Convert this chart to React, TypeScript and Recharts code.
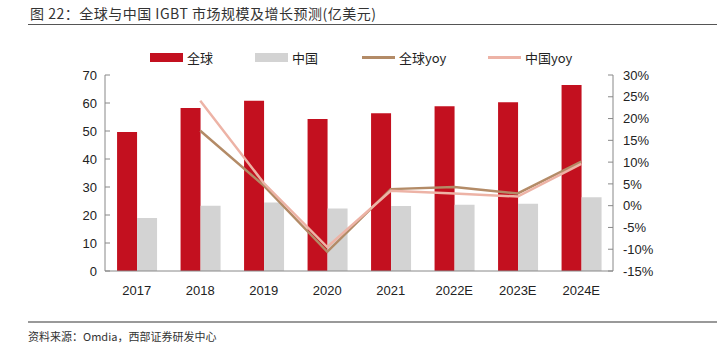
import React from 'react'
import {
  ComposedChart,
  Bar,
  Line,
  XAxis,
  YAxis,
} from 'recharts'

const years = ['2017', '2018', '2019', '2020', '2021', '2022E', '2023E', '2024E']
const globalSize = [49.6, 58.2, 60.8, 54.3, 56.3, 58.8, 60.3, 66.4]
const chinaSize = [18.9, 23.3, 24.5, 22.3, 23.2, 23.7, 24.0, 26.3]
const globalYoy = [null, 17.2, 4.6, -10.6, 3.8, 4.3, 2.8, 10.1]
const chinaYoy = [null, 24.1, 5.2, -9.5, 3.4, 2.8, 2.1, 9.6]
const leftTicks = [0, 10, 20, 30, 40, 50, 60, 70]
const rightTicks = [-15, -10, -5, 0, 5, 10, 15, 20, 25, 30]
const boundaryTicks = [0, 1, 2, 3, 4, 5, 6, 7, 8]

const data = years.map((year, i) => ({
  year,
  global: globalSize[i],
  china: chinaSize[i],
  globalYoy: globalYoy[i],
  chinaYoy: chinaYoy[i],
}))

const colors = {
  global: '#C3101F',
  china: '#D3D3D3',
  globalYoy: '#B38B67',
  chinaYoy: '#EDB3A6',
}

const legendItems = [
  { label: '全球', color: colors.global, line: false, x: 150 },
  { label: '中国', color: colors.china, line: false, x: 255 },
  { label: '全球yoy', color: colors.globalYoy, line: true, x: 362 },
  { label: '中国yoy', color: colors.chinaYoy, line: true, x: 488 },
]

const cjk = '"Noto Sans CJK SC", sans-serif'
const axisFont = { fontSize: 13, fill: '#222', fontFamily: 'Liberation Sans, Arial, sans-serif' }

export default function App() {
  return (
    <div style={{ position: 'absolute', left: 0, top: 0, width: 717, height: 356, background: '#fff' }}>
      <div
        style={{
          position: 'absolute',
          left: 30,
          top: 3,
          fontSize: 14,
          color: '#333',
          fontFamily: cjk,
          letterSpacing: 0.5,
          whiteSpace: 'nowrap',
        }}
      >
        图 22：全球与中国 IGBT 市场规模及增长预测(亿美元)
      </div>
      <div style={{ position: 'absolute', left: 28, top: 24, width: 689, height: 1, background: '#555' }} />

      {legendItems.map((item) => (
        <div
          key={item.label}
          style={{ position: 'absolute', left: item.x, top: 48, display: 'flex', alignItems: 'center', height: 18 }}
        >
          <span
            style={{
              display: 'inline-block',
              width: 33,
              height: item.line ? 3 : 9,
              background: item.color,
              marginRight: 4,
            }}
          />
          <span style={{ fontSize: 13, color: '#222', fontFamily: cjk }}>{item.label}</span>
        </div>
      ))}

      <div style={{ position: 'absolute', left: 0, top: 0 }}>
        <ComposedChart
          width={717}
          height={300}
          data={data}
          margin={{ top: 75, right: 54, left: 65, bottom: 4 }}
          barCategoryGap="19%"
          barGap={0}
        >
          <XAxis
            dataKey="year"
            xAxisId="cat"
            tick={axisFont}
            axisLine={{ stroke: '#888' }}
            tickLine={false}
            tickMargin={9}
            height={25}
          />
          <XAxis
            xAxisId="grid"
            type="number"
            domain={[0, 8]}
            ticks={boundaryTicks}
            tick={false}
            tickSize={-4}
            tickLine={{ stroke: '#888' }}
            axisLine={false}
            height={0}
          />
          <YAxis
            yAxisId="left"
            domain={[0, 70]}
            ticks={leftTicks}
            tick={axisFont}
            axisLine={{ stroke: '#888' }}
            tickLine={{ stroke: '#888' }}
            tickSize={-5}
            tickMargin={13}
            width={40}
            interval={0}
          />
          <YAxis
            yAxisId="right"
            orientation="right"
            domain={[-15, 30]}
            ticks={rightTicks}
            tickFormatter={(v) => `${v}%`}
            tick={axisFont}
            axisLine={{ stroke: '#888' }}
            tickLine={{ stroke: '#888' }}
            tickSize={-5}
            tickMargin={15}
            width={50}
            interval={0}
          />
          <Bar
            dataKey="global"
            xAxisId="cat"
            yAxisId="left"
            fill={colors.global}
            isAnimationActive={false}
          />
          <Bar
            dataKey="china"
            xAxisId="cat"
            yAxisId="left"
            fill={colors.china}
            isAnimationActive={false}
          />
          <Line
            dataKey="globalYoy"
            xAxisId="cat"
            yAxisId="right"
            type="linear"
            stroke={colors.globalYoy}
            strokeWidth={2.5}
            dot={false}
            isAnimationActive={false}
          />
          <Line
            dataKey="chinaYoy"
            xAxisId="cat"
            yAxisId="right"
            type="linear"
            stroke={colors.chinaYoy}
            strokeWidth={2.5}
            dot={false}
            isAnimationActive={false}
          />
        </ComposedChart>
      </div>

      <div style={{ position: 'absolute', left: 28, top: 321, width: 689, height: 2, background: '#999' }} />
      <div
        style={{
          position: 'absolute',
          left: 28,
          top: 328,
          fontSize: 11,
          color: '#333',
          fontFamily: cjk,
          whiteSpace: 'nowrap',
        }}
      >
        资料来源：Omdia，西部证券研发中心
      </div>
    </div>
  )
}
